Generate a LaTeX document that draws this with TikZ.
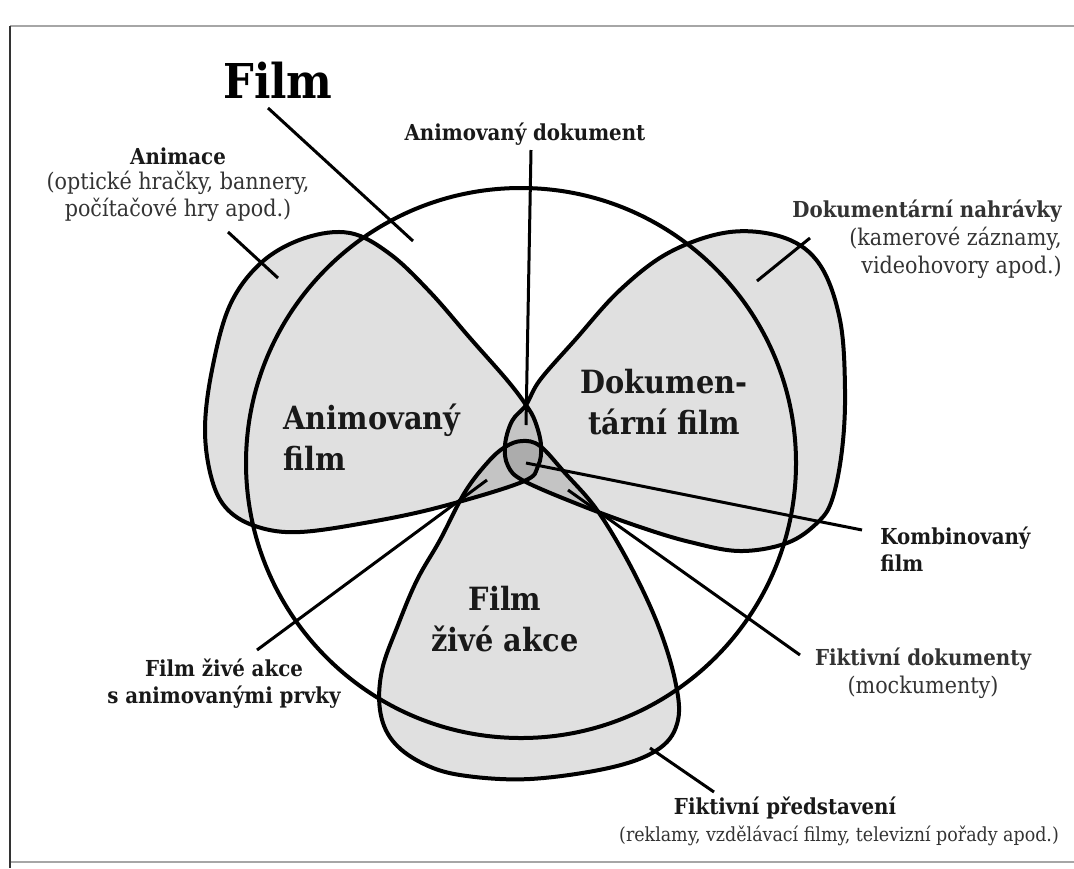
\documentclass[tikz,border=0pt]{standalone}
\usepackage{fontspec}
\setmainfont{DejaVuSerifCondensed.ttf}[BoldFont=DejaVuSerifCondensed-Bold.ttf]

\tikzset{
    outline/.style={line width=2pt, line join=round},
    petal/.style={outline, fill=black, fill opacity=0.12},
    pointer/.style={line width=1.5pt},
    scanedge/.style={line width=0.6pt, draw=black!35},
    title/.style={font=\fontsize{11}{13.5}\selectfont\bfseries, text=black!90, inner sep=0pt},
    note/.style={font=\fontsize{11.5}{13.5}\selectfont, text=black!80, inner sep=0pt},
    biglabel/.style={font=\fontsize{16}{20.5}\selectfont\bfseries, text=black!90, inner sep=0pt},
}

\begin{document}
\begin{tikzpicture}[x=0.5pt, y=-0.5pt]
        \useasboundingbox (0,0) rectangle (1074,868);
        \fill[white] (0,0) rectangle (1074,868);

        % page edges of the scan
        \draw [scanedge] (10,26) -- (1074,26);
        \draw [scanedge] (10,862) -- (1074,862);
        \draw [line width=1pt, draw=black!80] (10,26) -- (10,868);

        % Film (the whole circle)
        \coordinate (c) at (521,463);
        \draw [outline] (c) circle [radius=275];

        % Animovany film
        \draw [petal] plot [smooth cycle, tension=0.6] coordinates {
            (522,482) (538,466) (541,445) (535,421) (526,405) (507,380)
            (470,338) (430,292) (390,254) (350,233) (305,238) (262,262)
            (230,305) (212,370) (205,430) (212,480) (228,510) (258,527)
            (300,532) (370,522) (440,507)};

        % Dokumentarni film
        \draw [petal] plot [smooth cycle, tension=0.6] coordinates {
            (524,481) (508,466) (505,445) (512,421) (526,405) (540,380)
            (575,340) (620,290) (670,252) (730,232) (785,238) (820,265)
            (840,320) (845,390) (842,450) (832,500) (817,523) (787,543)
            (740,551) (690,542) (640,527) (580,505)};

        % Film zive akce
        \draw [petal] plot [smooth cycle, tension=0.6] coordinates {
            (522,441) (540,446) (565,473) (597,510) (630,565) (658,625)
            (675,680) (678,720) (660,748) (613,767) (530,779) (460,775)
            (420,762) (392,740) (380,710) (382,670) (398,625) (417,580)
            (440,540) (465,492) (488,462) (505,447)};

        % Labels in the petals
        \node [biglabel, align=left, anchor=west] (ani) at (283,437) {Animovaný\\film};
        \node [biglabel, align=center] (dok) at (664,402) {Dokumen-\\tární film};
        \node [biglabel, align=center] (ziva) at (505,619) {Film\\živé akce};

        % Film
        \node [font=\fontsize{24}{28}\selectfont\bfseries, inner sep=0pt] (tFilm) at (278,80) {Film};
        \coordinate (film-a) at (268,108);
        \coordinate (film-b) at (413,241);
        \draw [pointer] (film-a) -- (film-b);

        % Animace
        \node [title] (tAnim) at (178,156) {Animace};
        \node [note, align=center] (nAnim) at (178,196) {(optické hračky, bannery,\\počítačové hry apod.)};
        \coordinate (anim-a) at (228,232);
        \coordinate (anim-b) at (278,278);
        \draw [pointer] (anim-a) -- (anim-b);

        % Animovany dokument
        \node [title] (tAniDok) at (525,134) {Animovaný dokument};
        \coordinate (anidok-a) at (531,150);
        \coordinate (anidok-b) at (526,425);
        \draw [pointer] (anidok-a) -- (anidok-b);

        % Dokumentarni nahravky
        \node [note, align=right, anchor=north east, font=\fontsize{11.5}{14}\selectfont] (tDokNah) at (1062,199)
            {{\fontsize{11}{14}\selectfont\bfseries Dokumentární nahrávky}\\(kamerové záznamy,\\videohovory apod.)};
        \coordinate (doknah-a) at (810,238);
        \coordinate (doknah-b) at (757,281);
        \draw [pointer] (doknah-a) -- (doknah-b);

        % Kombinovany film
        \node [title, align=left, anchor=west] (tKomb) at (880,549) {Kombinovaný\\film};
        \coordinate (komb-a) at (526,463);
        \coordinate (komb-b) at (862,530);
        \draw [pointer] (komb-a) -- (komb-b);

        % Fiktivni dokumenty
        \node [note, align=center, font=\fontsize{11.5}{14}\selectfont] (tFikDok) at (923,673)
            {{\fontsize{11}{14}\selectfont\bfseries Fiktivní dokumenty}\\(mockumenty)};
        \coordinate (fikdok-a) at (800,655);
        \coordinate (fikdok-b) at (568,490);
        \draw [pointer] (fikdok-a) -- (fikdok-b);

        % Film zive akce s animovanymi prvky
        \node [title, align=center] (tZivAni) at (224,684) {Film živé akce\\s animovanými prvky};
        \coordinate (zivani-a) at (257,650);
        \coordinate (zivani-b) at (487,480);
        \draw [pointer] (zivani-a) -- (zivani-b);

        % Fiktivni predstaveni
        \node [title] (tFikPred) at (785,808) {Fiktivní představení};
        \node [note, font=\fontsize{9.7}{12}\selectfont] (nFikPred) at (839,836) {(reklamy, vzdělávací filmy, televizní pořady apod.)};
        \coordinate (fikpred-a) at (650,748);
        \coordinate (fikpred-b) at (714,792);
        \draw [pointer] (fikpred-a) -- (fikpred-b);
\end{tikzpicture}
\end{document}
